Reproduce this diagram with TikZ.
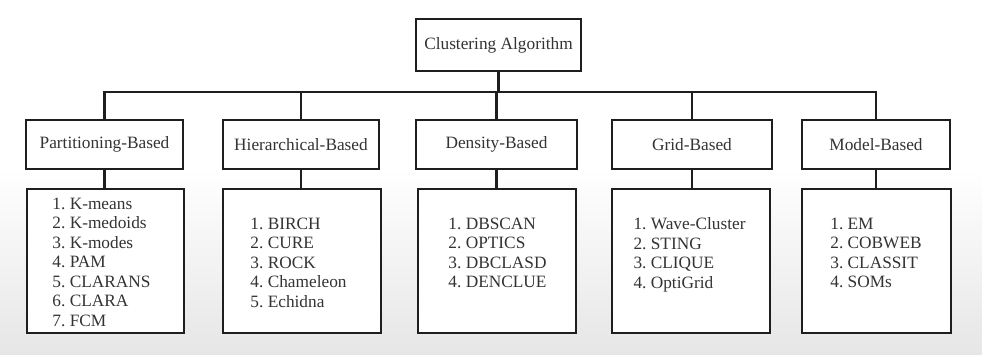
\documentclass[tikz,border=0pt]{standalone}
\usepackage{fontspec}
\setmainfont{Liberation Serif}
\definecolor{linec}{HTML}{1E1E1E}
\definecolor{textc}{HTML}{333333}
\definecolor{bgbot}{HTML}{E6E6E6}
\tikzset{
  box/.style={draw=linec, line width=2.3pt, fill=white, inner sep=0pt, text=textc,
    font=\fontsize{17.3}{19.5}\selectfont},
  listtext/.style={inner sep=0pt, align=left, anchor=north, text=textc,
    font=\fontsize{17.3}{19.5}\selectfont},
  conn/.style={draw=linec, line width=2.3pt, line join=miter}
}
\begin{document}
\begin{tikzpicture}[x=1pt,y=-1pt]
\useasboundingbox (0,0) rectangle (982,355);
\fill[white] (0,0) rectangle (982,171);
\shade[top color=white, bottom color=bgbot] (0,170) rectangle (982,355);

\node[box, minimum width=165pt, minimum height=52pt] (top) at (498.5,45) {Clustering Algorithm};

\node[box, minimum width=157pt, minimum height=49pt] (P) at (104.5,144.5) {Partitioning-Based};
\node[box, minimum width=156pt, minimum height=49pt] (H) at (301,144.5) {Hierarchical-Based};
\node[box, minimum width=161pt, minimum height=49pt] (D) at (496.5,144.5) {Density-Based};
\node[box, minimum width=160pt, minimum height=49pt] (G) at (692,144.5) {Grid-Based};
\node[box, minimum width=148pt, minimum height=49pt] (M) at (876,144.5) {Model-Based};

\node[box, minimum width=157pt, minimum height=144pt] (PL) at (105.5,261) {};
\node[box, minimum width=158pt, minimum height=144pt] (HL) at (302,261) {};
\node[box, minimum width=158pt, minimum height=144pt] (DL) at (497,261) {};
\node[box, minimum width=158pt, minimum height=144pt] (GL) at (691,261) {};
\node[box, minimum width=149pt, minimum height=144pt] (ML) at (876.5,261) {};

\node[listtext] (PT) at (101.5,197.8) {1.\ K-means\\2.\ K-medoids\\3.\ K-modes\\4.\ PAM\\5.\ CLARANS\\6.\ CLARA\\7.\ FCM};
\node[listtext] (HT) at (298.5,217.5) {1.\ BIRCH\\2.\ CURE\\3.\ ROCK\\4.\ Chameleon\\5.\ Echidna};
\node[listtext] (DT) at (497.5,217.5) {1.\ DBSCAN\\2.\ OPTICS\\3.\ DBCLASD\\4.\ DENCLUE};
\node[listtext] (GT) at (689.5,217.5) {1.\ Wave-Cluster\\2.\ STING\\3.\ CLIQUE\\4.\ OptiGrid};
\node[listtext] (MT) at (876,217.5) {1.\ EM\\2.\ COBWEB\\3.\ CLASSIT\\4.\ SOMs};

\coordinate (bus) at (0,92);
\draw[conn] (top.south) -- (top.south |- bus);
\draw[conn] (P.north) |- (M.north |- bus) -- (M.north);
\draw[conn] (H.north) -- (H.north |- bus);
\draw[conn] (D.north) -- (D.north |- bus);
\draw[conn] (G.north) -- (G.north |- bus);

\draw[conn] (P.south) -- (P.south |- PL.north);
\draw[conn] (H.south) -- (H.south |- HL.north);
\draw[conn] (D.south) -- (D.south |- DL.north);
\draw[conn] (G.south) -- (G.south |- GL.north);
\draw[conn] (M.south) -- (M.south |- ML.north);
\end{tikzpicture}
\end{document}
